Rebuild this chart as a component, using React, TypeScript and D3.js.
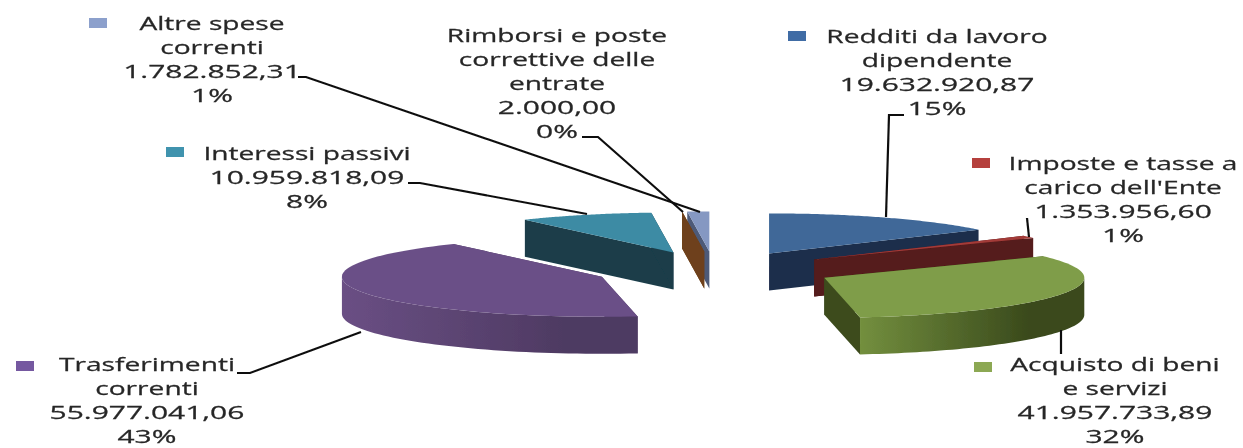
import React from "react";
import * as d3 from "d3";

const W = 1243, H = 448;

// Data, in pie order (clockwise from 12 o'clock)
const categories = ["Redditi da lavoro dipendente", "Imposte e tasse a carico dell'Ente", "Acquisto di beni e servizi", "Trasferimenti correnti", "Interessi passivi", "Rimborsi e poste correttive delle entrate", "Altre spese correnti"];
const values = [19632920.87, 1353956.6, 41957733.89, 55977041.06, 10959818.09, 2000.0, 1782852.31];
const valueLabels = ["19.632.920,87", "1.353.956,60", "41.957.733,89", "55.977.041,06", "10.959.818,09", "2.000,00", "1.782.852,31"];
const percentLabels = ["15%", "1%", "32%", "43%", "8%", "0%", "1%"];
const nameLines = [["Redditi da lavoro", "dipendente"], ["Imposte e tasse a", "carico dell'Ente"], ["Acquisto di beni", "e servizi"], ["Trasferimenti", "correnti"], ["Interessi passivi"], ["Rimborsi e poste", "correttive delle", "entrate"], ["Altre spese", "correnti"]];

// Styles
const topColors = ["#3F6898", "#A33A38", "#7F9D48", "#6B5087", "#3C8BA4", "#8A4F20", "#8598C2"];
const cutColors = ["#1B2E4C", "#541A1A", "#3C4C1E", "#4A3560", "#1A3E4A", "#6E401A", "#4D5A78"];
const wallFrom = ["#2A4468", "#6E2220", "#738F3E", "#6A4F84", "#1F4A58", "#6E401A", "#4D5A78"];
const wallTo = ["#1B2E4C", "#541A1A", "#3A4A1C", "#4E3A62", "#1A3E4A", "#6E401A", "#4D5A78"];
const swatchColors = ["#3F6CA5", "#B5403C", "#8CA852", "#7559A0", "#3F93AE", "#8A4F20", "#8CA0CC"];
const drawOrder = [4, 6, 5, 3, 0, 1, 2];

// Layout
const cx = 714.5, cy = 270, rx = 260, ry = 40, depth = 37, explode = 0.465;
const labelCenter = [937, 1123, 1115, 147, 307, 557, 212];
const labelTop = [43, 170, 371, 370.5, 160, 42, 30];
const swatchPos: ([number, number] | null)[] = [[788, 31], [972, 158], [974, 362], [16, 361], [166, 147], null, [89, 18]];
const leaders: [number, number][][] = [
  [[904, 115], [889, 115], [886, 217]],
  [[1027, 218], [1029, 237]],
  [[1061, 330], [1061, 354]],
  [[237, 373], [250, 373], [361, 332]],
  [[408, 183], [420, 183], [587, 214]],
  [[582, 137], [598, 137], [683, 212]],
  [[298, 77], [306, 77], [700, 212]],
];
const lineH = 24, fontSize = 18.5, stretchName = 1.52, stretchNumber = 1.62;

const line = d3.line<[number, number]>();

export default function App() {
  const pie = d3.pie<number>().sort(null).startAngle(0).endAngle(2 * Math.PI);
  const arcs = pie(values);

  const slices = arcs.map((a, i) => {
    const mid = (a.startAngle + a.endAngle) / 2;
    const ax = cx + explode * rx * Math.sin(mid);
    const ay = cy - explode * ry * Math.cos(mid);
    const pt = (t: number, dz = 0): [number, number] => [ax + rx * Math.sin(t), ay - ry * Math.cos(t) + dz];
    const steps = 80;
    const sweep = d3.range(steps + 1).map((k) => a.startAngle + ((a.endAngle - a.startAngle) * k) / steps);
    const top = line([[ax, ay], ...sweep.map((t) => pt(t))]) + "Z";
    const cutA = line([[ax, ay], pt(a.startAngle), pt(a.startAngle, depth), [ax, ay + depth]]) + "Z";
    const cutB = line([[ax, ay], pt(a.endAngle), pt(a.endAngle, depth), [ax, ay + depth]]) + "Z";
    const front = sweep.filter((t) => t >= Math.PI / 2 && t <= (3 * Math.PI) / 2);
    const wall = front.length > 1 ? line([...front.map((t) => pt(t)), ...front.slice().reverse().map((t) => pt(t, depth))]) + "Z" : null;
    return { i, top, cutA, cutB, wall };
  });

  return (
    <svg width={W} height={H} viewBox={`0 0 ${W} ${H}`} style={{ position: "absolute", left: 0, top: 0, background: "#fff" }} fontFamily="'Open Sans', sans-serif">
      <defs>
        <filter id="soft" x="-5%" y="-5%" width="110%" height="110%">
          <feGaussianBlur stdDeviation="0.6" />
        </filter>
        {categories.map((_, i) => (
          <linearGradient key={i} id={`wall${i}`} x1="0" x2="1" y1="0" y2="0">
            <stop offset="0" stopColor={wallFrom[i]} />
            <stop offset="0.75" stopColor={wallTo[i]} />
            <stop offset="1" stopColor={wallTo[i]} />
          </linearGradient>
        ))}
      </defs>
      <g filter="url(#soft)">
        {drawOrder.map((k) => {
          const s = slices[k];
          return (
            <g key={k}>
              <path d={s.cutA} fill={cutColors[k]} />
              <path d={s.cutB} fill={cutColors[k]} />
              {s.wall && <path d={s.wall} fill={`url(#wall${k})`} />}
              <path d={s.top} fill={topColors[k]} />
            </g>
          );
        })}
        {leaders.map((pts, i) => (
          <path key={i} d={line(pts) as string} fill="none" stroke="#111" strokeWidth={2.2} />
        ))}
        {categories.map((c, i) => {
          const names = nameLines[i];
          const lines = [...names, valueLabels[i], percentLabels[i]];
          const sw = swatchPos[i];
          return (
            <g key={c}>
              {sw && <rect x={sw[0]} y={sw[1]} width={18} height={10} fill={swatchColors[i]} />}
              {lines.map((t, j) => (
                <text key={j} transform={`translate(${labelCenter[i]},${labelTop[i] + j * lineH}) scale(${j < names.length ? stretchName : stretchNumber},1)`} textAnchor="middle" fontSize={fontSize} fill="#262626" stroke="#262626" strokeWidth={0.25}>
                  {t}
                </text>
              ))}
            </g>
          );
        })}
      </g>
    </svg>
  );
}
